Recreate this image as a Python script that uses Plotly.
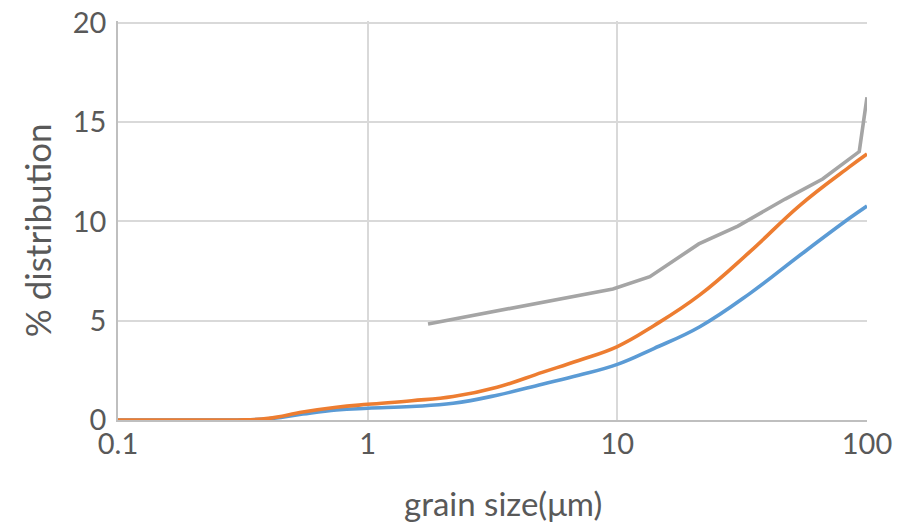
import plotly.graph_objects as go

# grain size (µm) and % distribution
blue_x = [0.1, 0.2, 0.3, 0.4, 0.55, 0.75, 1.0, 1.5, 2.2, 3.3, 5.0, 7.0, 10.0, 14.0, 21.4, 34.0, 54.0, 85.0, 100.0]
blue_y = [0.0, 0.0, 0.0, 0.06, 0.3, 0.5, 0.59, 0.68, 0.84, 1.25, 1.8, 2.25, 2.8, 3.6, 4.7, 6.38, 8.31, 10.16, 10.78]

orange_x = [0.1, 0.2, 0.3, 0.4, 0.55, 0.75, 1.0, 1.5, 2.2, 3.3, 5.0, 7.0, 10.0, 14.0, 21.4, 34.0, 54.0, 85.0, 100.0]
orange_y = [0.0, 0.0, 0.0, 0.08, 0.4, 0.64, 0.79, 0.97, 1.18, 1.65, 2.4, 3.0, 3.7, 4.75, 6.3, 8.48, 10.83, 12.75, 13.4]

gray_x = [1.745, 9.6, 13.5, 21.2, 30.4, 47.0, 66.4, 93.1, 100.0]
gray_y = [4.84, 6.6, 7.22, 8.87, 9.77, 11.13, 12.14, 13.52, 16.26]

x_tickvals = [0.1, 1, 10, 100]
x_ticktext = ["0.1", "1", "10", "100"]
y_tickvals = [0, 5, 10, 15, 20]

FONT = "Lato"
TXT = "#595959"

fig = go.Figure()
fig.add_trace(go.Scatter(x=blue_x, y=blue_y, mode="lines",
                         line=dict(color="#5B9BD5", width=3.6, shape="spline", smoothing=1.2),
                         showlegend=False))
fig.add_trace(go.Scatter(x=orange_x, y=orange_y, mode="lines",
                         line=dict(color="#ED7D31", width=3.6, shape="spline", smoothing=1.2),
                         showlegend=False))
fig.add_trace(go.Scatter(x=gray_x, y=gray_y, mode="lines",
                         line=dict(color="#A5A5A5", width=3.6),
                         showlegend=False))

# the page places the figure 8px in from the top-left corner; margins compensate
fig.update_layout(
    width=917, height=526,
    margin=dict(l=110, r=58, t=13, b=114, autoexpand=False),
    paper_bgcolor="white", plot_bgcolor="white",
    font=dict(family=FONT, color=TXT),
    xaxis=dict(type="log", range=[-1, 2], tickvals=x_tickvals, ticktext=x_ticktext,
               showgrid=True, gridcolor="#D9D9D9", gridwidth=1.5,
               showline=True, linecolor="#BFBFBF", linewidth=2,
               ticks="", ticklabelstandoff=-3, automargin=False,
               ticklabeloverflow="allow",
               tickfont=dict(family=FONT, size=29, color=TXT),
               zeroline=False, fixedrange=True),
    yaxis=dict(range=[0, 20.1], tickvals=y_tickvals,
               showgrid=True, gridcolor="#D9D9D9", gridwidth=1.5,
               showline=True, linecolor="#BFBFBF", linewidth=1.5,
               ticks="", ticklabelstandoff=4, automargin=False,
               ticklabeloverflow="allow",
               tickfont=dict(family=FONT, size=29, color=TXT),
               zeroline=False, fixedrange=True),
    annotations=[
        dict(text="% distribution", xref="paper", yref="paper", x=-0.107, y=0.475,
             xanchor="center", yanchor="middle", textangle=-90, showarrow=False,
             font=dict(family=FONT, size=35, color=TXT)),
        dict(text="grain size(μm)", xref="paper", yref="paper", x=0.514, y=-0.207,
             xanchor="center", yanchor="middle", showarrow=False,
             font=dict(family=FONT, size=33, color=TXT)),
        dict(text="grain size(μm)", xref="paper", yref="paper", x=0.514, y=1.079,
             xanchor="center", yanchor="middle", showarrow=False,
             font=dict(family=FONT, size=33, color=TXT)),
    ],
)

fig.write_html("out.html")
